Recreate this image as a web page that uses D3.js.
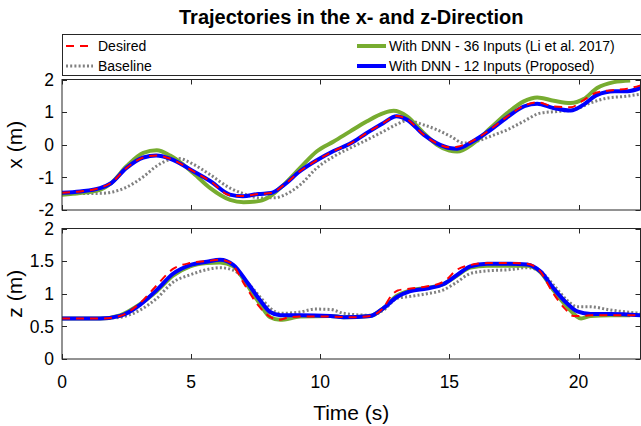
<!DOCTYPE html>
<html>
<head>
<meta charset="utf-8">
<script src="https://cdn.jsdelivr.net/npm/d3@7"></script>
<style>
  body { margin: 0; background: #fff; }
  svg { display: block; font-family: Arial, 'Liberation Sans', sans-serif; }
</style>
</head>
<body>
<svg width="641" height="426"></svg>
<script>
'use strict'

// ---- data ----
let xTicks = [0, 5, 10, 15, 20]
let yTicksX = [-2, -1, 0, 1, 2]
let yTicksZ = [0, 0.5, 1, 1.5, 2]
let tickLabelsZ = ['0', '0.5', '1', '1.5', '2']

// x-direction
let xDesiredT = [0, 0.7, 1.47, 1.9, 2.5, 3.15, 3.65, 4.2, 5.1, 5.75, 6.5, 7.0, 7.6, 8.1, 8.6, 9.2, 9.9, 10.5, 11.2, 11.8, 12.45, 12.95, 13.35, 14.0, 14.5, 15.0, 15.3, 15.9, 16.6, 17.2, 17.9, 18.4, 19.0, 19.7, 20.2, 20.7, 21.4, 21.9, 22.4]
let xDesired = [-1.47, -1.43, -1.32, -1.17, -0.71, -0.39, -0.33, -0.43, -0.82, -1.12, -1.55, -1.57, -1.51, -1.48, -1.23, -0.82, -0.46, -0.20, 0.05, 0.36, 0.67, 0.88, 0.79, 0.31, 0.05, -0.08, -0.06, 0.12, 0.48, 0.84, 1.2, 1.3, 1.18, 1.15, 1.37, 1.6, 1.68, 1.72, 1.82]
let xProposedT = xDesiredT
let xProposed = [-1.47, -1.43, -1.33, -1.18, -0.71, -0.39, -0.33, -0.43, -0.82, -1.12, -1.53, -1.58, -1.51, -1.48, -1.23, -0.82, -0.46, -0.20, 0.05, 0.36, 0.67, 0.87, 0.77, 0.31, 0.05, -0.10, -0.12, 0.10, 0.46, 0.82, 1.18, 1.26, 1.13, 1.05, 1.23, 1.52, 1.64, 1.64, 1.74]
let xLiT = [0, 0.7, 1.47, 1.9, 2.5, 3.15, 3.67, 4.19, 5.09, 5.74, 6.51, 7.03, 7.67, 8.06, 8.58, 9.22, 9.87, 10.52, 11.16, 11.81, 12.45, 12.84, 13.36, 14.0, 14.52, 15.0, 15.3, 15.94, 16.59, 17.24, 17.88, 18.4, 19.04, 19.69, 20.2, 20.72, 21.37, 22.0]
let xLi = [-1.53, -1.48, -1.38, -1.18, -0.66, -0.25, -0.17, -0.33, -0.87, -1.33, -1.69, -1.76, -1.72, -1.58, -1.23, -0.71, -0.20, 0.10, 0.41, 0.72, 0.97, 1.04, 0.87, 0.36, 0.0, -0.18, -0.21, 0.05, 0.51, 0.97, 1.33, 1.45, 1.35, 1.28, 1.40, 1.74, 1.92, 1.97]
let xBaseT = [0, 1.47, 2.0, 2.5, 3.15, 3.67, 4.19, 4.5, 5.09, 5.74, 6.51, 7.03, 7.67, 8.3, 8.58, 9.22, 9.87, 10.52, 11.16, 11.81, 12.45, 12.97, 13.36, 14.0, 14.52, 15.04, 15.56, 15.94, 16.59, 17.24, 17.88, 18.53, 19.17, 19.81, 20.46, 21.1, 21.76, 22.4]
let xBase = [-1.5, -1.49, -1.44, -1.3, -0.98, -0.65, -0.45, -0.42, -0.6, -0.92, -1.33, -1.5, -1.63, -1.62, -1.55, -1.23, -0.71, -0.36, -0.10, 0.15, 0.41, 0.63, 0.74, 0.61, 0.46, 0.26, 0.05, 0.08, 0.26, 0.46, 0.72, 0.97, 1.02, 1.07, 1.28, 1.43, 1.48, 1.55]

// z-direction
let zDesiredT = [0, 1.5, 2.25, 3.0, 3.6, 4.3, 4.95, 5.6, 6.1, 6.5, 7.1, 7.6, 8.0, 8.4, 8.8, 9.2, 10.4, 11.2, 11.95, 12.45, 12.75, 13.0, 13.5, 14.1, 14.8, 15.3, 15.8, 16.5, 17.4, 18.0, 18.5, 19.0, 19.5, 19.8, 20.2, 20.5, 21.2, 22.4]
let zDesired = [0.62, 0.62, 0.66, 0.85, 1.10, 1.38, 1.47, 1.50, 1.52, 1.48, 1.12, 0.82, 0.66, 0.60, 0.64, 0.65, 0.65, 0.64, 0.66, 0.79, 0.97, 1.05, 1.08, 1.11, 1.19, 1.37, 1.44, 1.47, 1.47, 1.46, 1.35, 1.02, 0.76, 0.66, 0.66, 0.67, 0.67, 0.67]
let zProposedT = [0, 1.47, 2.25, 3.02, 3.67, 4.31, 4.96, 5.61, 6.12, 6.64, 7.16, 7.67, 8.06, 8.45, 9.22, 10.39, 10.9, 11.94, 12.45, 12.97, 13.49, 14.13, 14.78, 15.3, 15.81, 16.46, 17.36, 18.01, 18.53, 19.04, 19.56, 19.95, 20.47, 21.24, 22.4]
let zProposed = [0.62, 0.62, 0.66, 0.83, 1.06, 1.31, 1.44, 1.49, 1.52, 1.44, 1.18, 0.90, 0.72, 0.67, 0.67, 0.66, 0.64, 0.66, 0.78, 0.95, 1.04, 1.08, 1.15, 1.29, 1.42, 1.46, 1.46, 1.45, 1.34, 1.08, 0.85, 0.73, 0.69, 0.69, 0.67]
let zLiT = [0, 1.47, 2.25, 3.02, 3.67, 4.31, 4.96, 5.61, 6.12, 6.64, 7.16, 7.67, 8.06, 8.45, 9.22, 10.39, 10.9, 11.94, 12.45, 12.97, 13.49, 14.13, 14.78, 15.3, 15.81, 16.46, 17.36, 18.01, 18.53, 19.04, 19.56, 20.1, 20.47, 21.24, 22.0]
let zLi = [0.62, 0.62, 0.67, 0.84, 1.04, 1.28, 1.42, 1.47, 1.48, 1.42, 1.14, 0.84, 0.64, 0.60, 0.65, 0.66, 0.64, 0.66, 0.78, 0.97, 1.05, 1.09, 1.15, 1.28, 1.40, 1.43, 1.43, 1.43, 1.33, 1.05, 0.80, 0.62, 0.66, 0.67, 0.67]
let zBaseT = [0, 1.47, 2.25, 3.02, 3.67, 4.31, 4.96, 5.61, 6.12, 6.64, 7.16, 7.67, 8.06, 8.45, 9.22, 9.8, 10.39, 10.9, 11.94, 12.45, 12.97, 13.49, 14.13, 14.78, 15.3, 15.81, 16.46, 17.36, 18.01, 18.53, 19.04, 19.56, 19.95, 20.47, 21.24, 22.4]
let zBase = [0.62, 0.62, 0.64, 0.75, 0.93, 1.18, 1.29, 1.37, 1.40, 1.36, 1.18, 0.95, 0.78, 0.70, 0.72, 0.765, 0.76, 0.70, 0.67, 0.75, 0.93, 0.96, 1.0, 1.06, 1.18, 1.31, 1.35, 1.37, 1.40, 1.34, 1.13, 0.90, 0.80, 0.80, 0.75, 0.70]

let series = [
	{ name: 'Baseline', color: '#808080', width: 3, dash: '2,2.2' },
	{ name: 'With DNN - 36 Inputs (Li et al. 2017)', color: '#77ac30', width: 4, dash: null },
	{ name: 'With DNN - 12 Inputs (Proposed)', color: '#0000ff', width: 4, dash: null },
	{ name: 'Desired', color: '#ff0000', width: 2, dash: '8,6' }
]

let xData = [[xBaseT, xBase], [xLiT, xLi], [xProposedT, xProposed], [xDesiredT, xDesired]]
let zData = [[zBaseT, zBase], [zLiT, zLi], [zProposedT, zProposed], [zDesiredT, zDesired]]

// ---- layout ----
let left = 62, right = 640.5
let svg = d3.select('svg')
let axisColor = '#262626'

let xScale = d3.scaleLinear().domain([0, 22.4]).range([left, right])

function panel(id, top, bottom, domain, yTicks, yLabels, label, data) {
	let y = d3.scaleLinear().domain(domain).range([bottom, top])
	let g = svg.append('g')

	g.append('clipPath').attr('id', id)
		.append('rect')
		.attr('x', left).attr('y', top)
		.attr('width', right - left).attr('height', bottom - top)

	let line = d3.line()
		.x(function(d) { return xScale(d[0]) })
		.y(function(d) { return y(d[1]) })
		.curve(d3.curveMonotoneX)

	let lines = g.append('g').attr('clip-path', 'url(#' + id + ')')
	data.forEach(function(pair, i) {
		let s = series[i]
		let pts = pair[0].map(function(t, j) { return [t, pair[1][j]] })
		lines.append('path')
			.attr('d', line(pts))
			.attr('fill', 'none')
			.attr('stroke', s.color)
			.attr('stroke-width', s.width)
			.attr('stroke-dasharray', s.dash)
			.attr('stroke-linejoin', 'round')
	})

	// box
	g.append('rect')
		.attr('x', left).attr('y', top)
		.attr('width', right - left).attr('height', bottom - top)
		.attr('fill', 'none').attr('stroke', axisColor).attr('stroke-width', 1)

	let tl = 5
	let ax = g.append('g')
		.attr('stroke', axisColor).attr('stroke-width', 1)
	xTicks.forEach(function(t) {
		let px = Math.round(xScale(t)) + 0.5
		ax.append('line').attr('x1', px).attr('x2', px).attr('y1', bottom).attr('y2', bottom - tl)
		ax.append('line').attr('x1', px).attr('x2', px).attr('y1', top).attr('y2', top + tl)
	})
	yTicks.forEach(function(v, i) {
		let py = Math.round(y(v)) + 0.5
		ax.append('line').attr('x1', left).attr('x2', left + tl).attr('y1', py).attr('y2', py)
		ax.append('line').attr('x1', right).attr('x2', right - tl).attr('y1', py).attr('y2', py)
		g.append('text')
			.attr('x', left - 8).attr('y', y(v))
			.attr('dy', '0.36em')
			.attr('text-anchor', 'end')
			.attr('font-size', 17.5)
			.attr('fill', '#000')
			.text(yLabels[i])
	})

	g.append('text')
		.attr('transform', 'translate(22,' + ((top + bottom) / 2) + ') rotate(-90)')
		.attr('text-anchor', 'middle')
		.attr('font-size', 21)
		.attr('fill', '#000')
		.text(label)

	return y
}

panel('clipX', 79.5, 210, [-2, 2], yTicksX, yTicksX.map(String), 'x (m)', xData)
panel('clipZ', 228.5, 359, [0, 2], yTicksZ, tickLabelsZ, 'z (m)', zData)

// x tick labels under the lower panel
xTicks.forEach(function(t) {
	svg.append('text')
		.attr('x', xScale(t)).attr('y', 388)
		.attr('text-anchor', 'middle')
		.attr('font-size', 17.5)
		.attr('fill', '#000')
		.text(t)
})

svg.append('text')
	.attr('x', (left + right) / 2).attr('y', 420)
	.attr('text-anchor', 'middle')
	.attr('font-size', 21)
	.attr('fill', '#000')
	.text('Time (s)')

svg.append('text')
	.attr('x', (left + right) / 2).attr('y', 24)
	.attr('text-anchor', 'middle')
	.attr('font-size', 20)
	.attr('font-weight', 'bold')
	.attr('fill', '#000')
	.text('Trajectories in the x- and z-Direction')

// legend
let legend = svg.append('g')
legend.append('rect')
	.attr('x', left + 0.5).attr('y', 34.5)
	.attr('width', 700).attr('height', 41)
	.attr('fill', '#fff').attr('stroke', axisColor).attr('stroke-width', 1)

let legendItems = [
	{ s: series[3], x: 66, y: 46, len: 22 },
	{ s: series[0], x: 66, y: 66, len: 27 },
	{ s: series[1], x: 357, y: 46, len: 29 },
	{ s: series[2], x: 357, y: 66, len: 29 }
]
legendItems.forEach(function(d) {
	legend.append('line')
		.attr('x1', d.x).attr('x2', d.x + d.len)
		.attr('y1', d.y).attr('y2', d.y)
		.attr('stroke', d.s.color)
		.attr('stroke-width', d.s.width)
		.attr('stroke-dasharray', d.s.dash)
	legend.append('text')
		.attr('x', d.x + 32).attr('y', d.y)
		.attr('dy', '0.36em')
		.attr('font-size', 14)
		.attr('fill', '#000')
		.text(d.s.name)
})
</script>
</body>
</html>
